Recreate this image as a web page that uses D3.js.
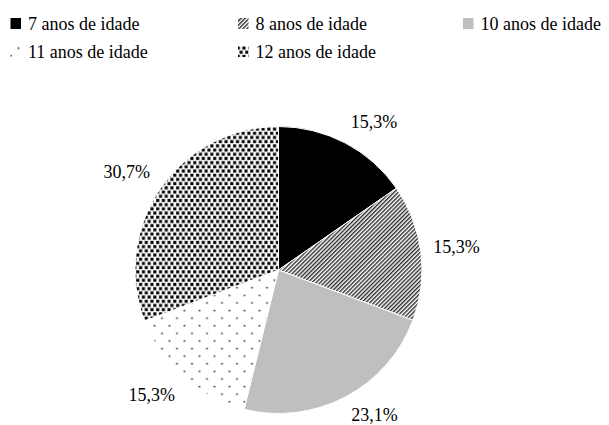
<!DOCTYPE html>
<html>
<head>
<meta charset="utf-8">
<script src="https://cdn.jsdelivr.net/npm/d3@7"></script>
<style>
  html, body { margin: 0; padding: 0; background: #fff; }
  svg { display: block; }
</style>
</head>
<body>
<svg id="chart" width="609" height="425"></svg>
<script>
// Age groups and their share of the sample (%)
const categories = ["7 anos de idade", "8 anos de idade", "10 anos de idade", "11 anos de idade", "12 anos de idade"];
const shares = [15.3, 15.3, 23.1, 15.3, 30.7];
const fills = ["solid-black", "diag-stripes", "solid-grey", "sparse-dots", "checker"];

const W = 609, H = 425;
const svg = d3.select("#chart");
const defs = svg.append("defs");
const FONT = `"Liberation Serif", "Times New Roman"`;

// Fill patterns
const stripes = defs.append("pattern").attr("id", "diag-stripes")
  .attr("patternUnits", "userSpaceOnUse").attr("width", 2.9).attr("height", 2.9)
  .attr("patternTransform", "rotate(45)");
stripes.append("rect").attr("width", 2.9).attr("height", 2.9).attr("fill", "#fff");
stripes.append("line").attr("x1", 0.7).attr("y1", 0).attr("x2", 0.7).attr("y2", 2.9)
  .attr("stroke", "#2a2a2a").attr("stroke-width", 1.4);

const dots = defs.append("pattern").attr("id", "sparse-dots")
  .attr("patternUnits", "userSpaceOnUse").attr("width", 15).attr("height", 15.2);
dots.append("rect").attr("width", 15).attr("height", 15.2).attr("fill", "#fff");
dots.append("circle").attr("cx", 3.5).attr("cy", 2.5).attr("r", 0.9).attr("fill", "#222");
dots.append("circle").attr("cx", 11).attr("cy", 10.1).attr("r", 0.9).attr("fill", "#222");

// staggered small squares
const checker = defs.append("pattern").attr("id", "checker")
  .attr("patternUnits", "userSpaceOnUse").attr("width", 5.7).attr("height", 8.4);
checker.append("rect").attr("width", 5.7).attr("height", 8.4).attr("fill", "#fff");
checker.append("rect").attr("x", 0.2).attr("y", 0.3).attr("width", 3.1).attr("height", 3.1).attr("fill", "#000");
checker.append("rect").attr("x", 3.05).attr("y", 4.5).attr("width", 3.1).attr("height", 3.1).attr("fill", "#000");
checker.append("rect").attr("x", -2.65).attr("y", 4.5).attr("width", 3.1).attr("height", 3.1).attr("fill", "#000");

const fillOf = key => ({
  "solid-black": "#000000",
  "solid-grey": "#bfbfbf"
}[key] || `url(#${key})`);

// Legend
const legendCols = [10.5, 238, 463];
const legendRows = [30, 58];
const perRow = 3;
const legend = svg.append("g").attr("class", "legend");
categories.forEach((name, i) => {
  const x = legendCols[i % perRow];
  const y = legendRows[Math.floor(i / perRow)];
  const g = legend.append("g");
  g.append("rect")
    .attr("x", x).attr("y", y - 12).attr("width", 10.5).attr("height", 11)
    .attr("fill", fillOf(fills[i]));
  g.append("text")
    .attr("x", x + 17.5).attr("y", y)
    .style("font-family", FONT)
    .attr("font-size", 18).attr("fill", "#000")
    .text(name);
});

// Pie
const cx = 278.5, cy = 270, radius = 143.5;
const pie = d3.pie().sort(null).value(d => d);
const arcs = pie(shares);
const arc = d3.arc().innerRadius(0).outerRadius(radius);

const plot = svg.append("g").attr("transform", `translate(${cx},${cy})`);
plot.selectAll("path.slice")
  .data(arcs)
  .join("path")
  .attr("class", "slice")
  .attr("d", arc)
  .attr("fill", (d, i) => fillOf(fills[i]))
  .attr("stroke", "#fff")
  .attr("stroke-width", 1);

// Outside-end data labels: the label box corner nearest the centre sits on the mid-angle ray
const fmt = v => v.toFixed(1).replace(".", ",") + "%";
const labelR = 156, boxH = 18;
const clamp = v => Math.max(-1, Math.min(1, v));
arcs.forEach(d => {
  const mid = (d.startAngle + d.endAngle) / 2;
  const dx = Math.sin(mid), dy = -Math.cos(mid);
  const t = plot.append("text")
    .style("font-family", FONT)
    .attr("font-size", 18).attr("fill", "#000")
    .attr("text-anchor", "middle")
    .text(fmt(d.data));
  const w = t.node().getComputedTextLength();
  const px = dx * labelR, py = dy * labelR;
  const bx = px + clamp(3 * dx) * w / 2;
  const by = py + clamp(3 * dy) * boxH / 2;
  t.attr("x", bx).attr("y", Math.min(by + 5.5, H - cy - 4));
});
</script>
</body>
</html>
